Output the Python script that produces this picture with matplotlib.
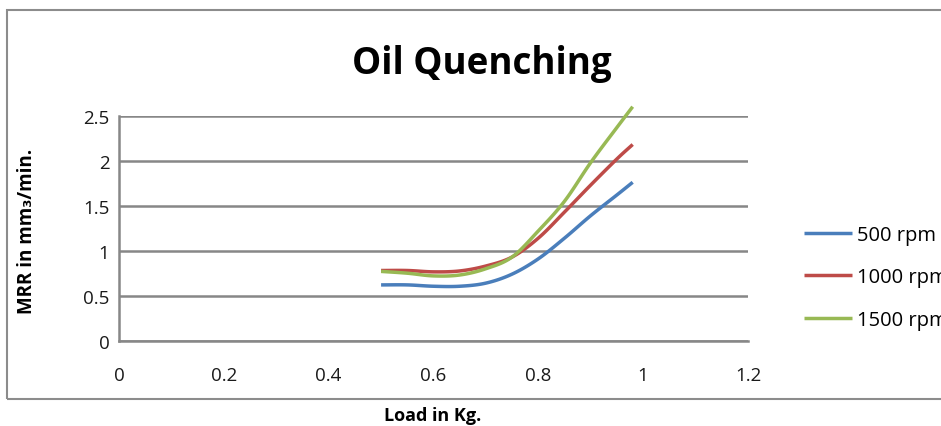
import matplotlib
matplotlib.use('Agg')
import numpy as np
import matplotlib.pyplot as plt
from matplotlib.patches import Rectangle

plt.rcParams['font.family'] = ['Open Sans', 'DejaVu Sans']

# load in kg
load = [0.50, 0.55, 0.60, 0.65, 0.70, 0.75, 0.80, 0.85, 0.90, 0.95, 0.98]
# MRR in mm3/min
mrr_500 = [0.62, 0.62, 0.605, 0.605, 0.64, 0.74, 0.91, 1.14, 1.39, 1.62, 1.76]
mrr_1000 = [0.78, 0.78, 0.765, 0.775, 0.83, 0.93, 1.14, 1.43, 1.73, 2.02, 2.18]
mrr_1500 = [0.77, 0.75, 0.72, 0.73, 0.80, 0.93, 1.22, 1.55, 1.98, 2.37, 2.60]

series = [('500 rpm', mrr_500, '#4A7EBB'),
          ('1000 rpm', mrr_1000, '#BE4B48'),
          ('1500 rpm', mrr_1500, '#98B954')]

xticks = [0, 0.2, 0.4, 0.6, 0.8, 1.0, 1.2]
xlabels = ['0', '0.2', '0.4', '0.6', '0.8', '1', '1.2']
yticks = [0, 0.5, 1.0, 1.5, 2.0, 2.5]
ylabels = ['0', '0.5', '1', '1.5', '2', '2.5']


def smooth(x, y, n=12):
    # Excel style "smoothed line": Catmull-Rom curve through the points
    x = np.asarray(x, float)
    y = np.asarray(y, float)
    px = np.concatenate([[2*x[0] - x[1]], x, [2*x[-1] - x[-2]]])
    py = np.concatenate([[2*y[0] - y[1]], y, [2*y[-1] - y[-2]]])
    t = np.linspace(0, 1, n, endpoint=False)
    xs, ys = [], []
    for i in range(1, len(px) - 2):
        for p, out in ((px, xs), (py, ys)):
            p0, p1, p2, p3 = p[i-1], p[i], p[i+1], p[i+2]
            out.extend(0.5*((2*p1) + (-p0 + p2)*t + (2*p0 - 5*p1 + 4*p2 - p3)*t**2
                            + (-p0 + 3*p1 - 3*p2 + p3)*t**3))
    xs.append(x[-1])
    ys.append(y[-1])
    return xs, ys


W, H = 941, 427
fig = plt.figure(figsize=(W/100, H/100), dpi=100)
ax = fig.add_axes([119/W, 1 - 341.7/H, (748-119)/W, (341.7-116.7)/H])

grid_c = '#878787'
for lab, vals, col in series:
    sx, sy = smooth(load, vals)
    ax.plot(sx, sy, color=col, lw=2.5, label=lab, solid_capstyle='butt',
            zorder=3, clip_on=False)

ax.set_xlim(0, 1.2)
ax.set_ylim(0, 2.5)
ax.set_xticks(xticks)
ax.set_xticklabels(xlabels)
ax.set_yticks(yticks)
ax.set_yticklabels(ylabels)
ax.grid(axis='y', color=grid_c, lw=1.8)
ax.set_axisbelow(True)
for s in ['top', 'right']:
    ax.spines[s].set_visible(False)
for s in ['left', 'bottom']:
    ax.spines[s].set_color(grid_c)
    ax.spines[s].set_linewidth(1.8)
ax.tick_params(axis='both', length=0, labelsize=13.5, colors='#1a1a1a')
ax.tick_params(axis='x', pad=18)
ax.tick_params(axis='y', pad=7)

fig.text(482/W, 1 - 74/H, 'Oil Quenching', ha='center', va='baseline',
         fontsize=26.5, fontweight='bold')
fig.text(27.5/W, 1 - 231/H, 'MRR in mm\u2083/min.', rotation=90, ha='center', va='center',
         fontsize=13.5, fontweight='bold')
fig.text(433/W, 1 - 416/H, 'Load in Kg.', ha='center', va='center',
         fontsize=13, fontweight='bold')

ax.legend(loc='center left', bbox_to_anchor=(804/W, 1 - 278.5/H), bbox_transform=fig.transFigure,
          frameon=False, fontsize=14.5, handlelength=2.4, handletextpad=0.25,
          labelspacing=1.1, borderpad=0, borderaxespad=0)

fig.patches.append(Rectangle((7/W, 1 - 400/H), 1.2, (400-10.7)/H, transform=fig.transFigure,
                             fill=False, edgecolor='#8c8c8c', lw=1.5))

fig.savefig('out.png', dpi=100)
